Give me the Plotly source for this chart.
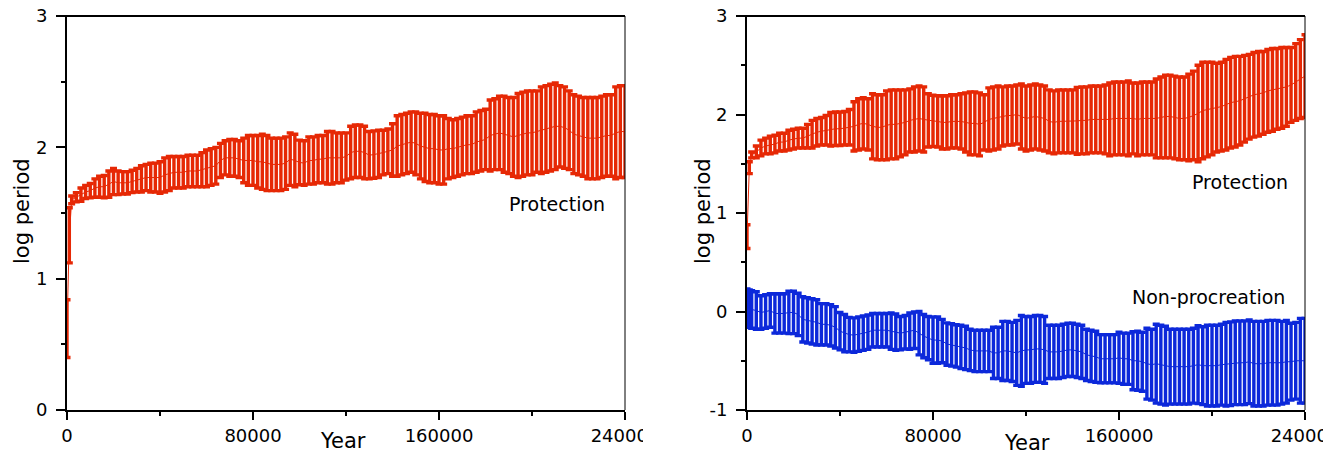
import plotly.graph_objects as go

# ---------------- data ----------------
# sample years: 0, 1000, then every 2000 years up to 240000
years = [0, 1000] + list(range(2000, 240001, 2000))

# Left panel: Protection (mean log period, half-width of error bar)
left_prot_mean = [
    0.62, 1.33,
    1.60, 1.62, 1.64, 1.66, 1.67, 1.69, 1.70, 1.70, 1.72, 1.74,   # 2k-20k
    1.73, 1.73, 1.73, 1.74, 1.75, 1.76, 1.77, 1.77, 1.77, 1.77,   # 22k-40k
    1.79, 1.80, 1.81, 1.81, 1.81, 1.82, 1.82, 1.82, 1.83, 1.84,   # 42k-60k
    1.85, 1.86, 1.90, 1.92, 1.92, 1.92, 1.91, 1.90, 1.90, 1.90,   # 62k-80k
    1.89, 1.89, 1.88, 1.87, 1.87, 1.87, 1.88, 1.91, 1.90, 1.885,  # 82k-100k
    1.88, 1.90, 1.90, 1.91, 1.91, 1.92, 1.92, 1.92, 1.92, 1.93,   # 102k-120k
    1.96, 1.97, 1.97, 1.96, 1.94, 1.945, 1.95, 1.96, 1.97, 1.98,  # 122k-140k
    2.01, 2.02, 2.03, 2.04, 2.03, 2.01, 2.00, 1.99, 1.99, 1.98,   # 142k-160k
    1.98, 1.99, 1.99, 2.00, 2.01, 2.02, 2.02, 2.04, 2.05, 2.06,   # 162k-180k
    2.09, 2.10, 2.11, 2.10, 2.09, 2.08, 2.09, 2.10, 2.11, 2.11,   # 182k-200k
    2.12, 2.13, 2.14, 2.15, 2.16, 2.16, 2.15, 2.13, 2.10, 2.09,   # 202k-220k
    2.08, 2.07, 2.07, 2.07, 2.08, 2.09, 2.09, 2.11, 2.12, 2.12,   # 222k-240k
]
left_prot_err = [
    0.22, 0.21,
    0.03, 0.035, 0.05, 0.05, 0.055, 0.07, 0.08, 0.085, 0.10, 0.10,
    0.09, 0.085, 0.085, 0.085, 0.09, 0.10, 0.10, 0.11, 0.11, 0.12,
    0.13, 0.13, 0.12, 0.12, 0.12, 0.12, 0.12, 0.12, 0.13, 0.14,
    0.14, 0.14, 0.13, 0.13, 0.14, 0.14, 0.14, 0.17, 0.19, 0.19,
    0.20, 0.21, 0.21, 0.20, 0.20, 0.20, 0.20, 0.20, 0.20, 0.17,
    0.17, 0.18, 0.18, 0.18, 0.18, 0.20, 0.20, 0.19, 0.19, 0.18,
    0.20, 0.20, 0.20, 0.20, 0.18, 0.18, 0.18, 0.17, 0.17, 0.20,
    0.23, 0.23, 0.23, 0.23, 0.24, 0.25, 0.26, 0.26, 0.26, 0.26,
    0.26, 0.23, 0.22, 0.22, 0.22, 0.22, 0.22, 0.23, 0.23, 0.23,
    0.27, 0.27, 0.28, 0.29, 0.29, 0.30, 0.32, 0.32, 0.32, 0.32,
    0.31, 0.33, 0.33, 0.33, 0.33, 0.31, 0.31, 0.30, 0.30, 0.30,
    0.30, 0.31, 0.31, 0.31, 0.31, 0.31, 0.31, 0.35, 0.35, 0.35,
]

# Right panel: Protection
right_prot_mean = [
    0.76, 1.46,
    1.59, 1.62, 1.66, 1.68, 1.69, 1.70, 1.72, 1.72, 1.74, 1.75,
    1.76, 1.76, 1.78, 1.80, 1.82, 1.83, 1.84, 1.85, 1.855, 1.855,
    1.86, 1.87, 1.88, 1.90, 1.91, 1.90, 1.88, 1.87, 1.87, 1.89,
    1.90, 1.90, 1.91, 1.92, 1.94, 1.95, 1.96, 1.95, 1.94, 1.935,
    1.93, 1.92, 1.92, 1.93, 1.93, 1.93, 1.92, 1.91, 1.91, 1.90,
    1.92, 1.95, 1.96, 1.97, 1.98, 1.99, 1.99, 2.00, 1.98, 1.96,
    1.97, 1.98, 1.97, 1.96, 1.93, 1.92, 1.93, 1.93, 1.93, 1.93,
    1.935, 1.94, 1.94, 1.95, 1.95, 1.95, 1.95, 1.95, 1.96, 1.96,
    1.96, 1.96, 1.96, 1.95, 1.96, 1.96, 1.96, 1.96, 1.97, 1.98,
    1.98, 1.97, 1.96, 1.96, 1.97, 1.99, 2.01, 2.04, 2.05, 2.06,
    2.07, 2.08, 2.10, 2.12, 2.13, 2.14, 2.16, 2.18, 2.20, 2.21,
    2.22, 2.24, 2.25, 2.26, 2.27, 2.28, 2.30, 2.33, 2.36, 2.39,
]
right_prot_err = [
    0.12, 0.06,
    0.03, 0.06, 0.08, 0.08, 0.09, 0.09, 0.09, 0.09, 0.10, 0.10,
    0.10, 0.10, 0.12, 0.14, 0.14, 0.14, 0.15, 0.17, 0.17, 0.17,
    0.17, 0.18, 0.25, 0.26, 0.26, 0.26, 0.33, 0.33, 0.33, 0.35,
    0.35, 0.35, 0.34, 0.33, 0.32, 0.33, 0.33, 0.33, 0.27, 0.26,
    0.26, 0.27, 0.27, 0.27, 0.27, 0.28, 0.30, 0.32, 0.32, 0.32,
    0.28, 0.32, 0.32, 0.32, 0.30, 0.30, 0.30, 0.30, 0.33, 0.33,
    0.33, 0.33, 0.33, 0.33, 0.32, 0.32, 0.32, 0.32, 0.32, 0.32,
    0.34, 0.34, 0.34, 0.34, 0.34, 0.34, 0.35, 0.37, 0.37, 0.37,
    0.37, 0.38, 0.36, 0.37, 0.37, 0.37, 0.37, 0.40, 0.41, 0.42,
    0.42, 0.42, 0.42, 0.42, 0.44, 0.45, 0.49, 0.49, 0.48, 0.47,
    0.45, 0.45, 0.46, 0.46, 0.46, 0.45, 0.44, 0.43, 0.43, 0.43,
    0.42, 0.42, 0.42, 0.41, 0.41, 0.40, 0.38, 0.39, 0.40, 0.42,
]

# Right panel: Non-procreation
right_nonp_mean = [
    0.045, 0.03,
    0.02, 0.01, -0.01, 0.00, 0.01, -0.02, -0.02, -0.02, -0.01, -0.01,
    -0.03, -0.08, -0.09, -0.10, -0.11, -0.13, -0.13, -0.14, -0.16, -0.20,
    -0.22, -0.235, -0.24, -0.23, -0.22, -0.21, -0.19, -0.19, -0.19, -0.19,
    -0.20, -0.21, -0.22, -0.21, -0.20, -0.19, -0.22, -0.25, -0.27, -0.29,
    -0.29, -0.30, -0.33, -0.34, -0.35, -0.36, -0.37, -0.39, -0.40, -0.40,
    -0.40, -0.40, -0.42, -0.42, -0.40, -0.40, -0.41, -0.42, -0.40, -0.39,
    -0.39, -0.38, -0.38, -0.39, -0.41, -0.41, -0.41, -0.40, -0.39, -0.39,
    -0.40, -0.41, -0.44, -0.45, -0.46, -0.48, -0.48, -0.48, -0.48, -0.47,
    -0.48, -0.48, -0.50, -0.50, -0.51, -0.53, -0.54, -0.53, -0.54, -0.55,
    -0.56, -0.56, -0.56, -0.56, -0.56, -0.55, -0.54, -0.55, -0.55, -0.55,
    -0.55, -0.54, -0.535, -0.53, -0.52, -0.52, -0.52, -0.51, -0.53, -0.53,
    -0.53, -0.52, -0.52, -0.52, -0.52, -0.51, -0.51, -0.50, -0.50, -0.50,
]
right_nonp_err = [
    0.185, 0.19,
    0.19, 0.19, 0.17, 0.17, 0.17, 0.20, 0.20, 0.20, 0.215, 0.215,
    0.215, 0.23, 0.23, 0.23, 0.23, 0.21, 0.21, 0.21, 0.21, 0.19,
    0.19, 0.175, 0.175, 0.175, 0.175, 0.175, 0.17, 0.17, 0.17, 0.17,
    0.185, 0.185, 0.17, 0.17, 0.185, 0.185, 0.22, 0.22, 0.22, 0.235,
    0.235, 0.22, 0.215, 0.215, 0.215, 0.22, 0.22, 0.21, 0.21, 0.21,
    0.21, 0.21, 0.26, 0.26, 0.30, 0.30, 0.30, 0.33, 0.36, 0.34,
    0.34, 0.34, 0.34, 0.34, 0.27, 0.27, 0.27, 0.27, 0.27, 0.27,
    0.27, 0.27, 0.26, 0.26, 0.26, 0.245, 0.245, 0.245, 0.245, 0.26,
    0.26, 0.26, 0.295, 0.30, 0.30, 0.36, 0.36, 0.40, 0.40, 0.40,
    0.38, 0.38, 0.38, 0.38, 0.38, 0.38, 0.395, 0.395, 0.41, 0.41,
    0.41, 0.41, 0.425, 0.425, 0.425, 0.425, 0.425, 0.425, 0.43, 0.43,
    0.43, 0.43, 0.43, 0.43, 0.42, 0.42, 0.39, 0.39, 0.43, 0.43,
]

x_ticks = [0, 80000, 160000, 240000]
x_tick_labels = ["0", "80000", "160000", "240000"]
y_left_ticks = [0, 1, 2, 3]
y_left_labels = ["0", "1", "2", "3"]
y_right_ticks = [-1, 0, 1, 2, 3]
y_right_labels = ["-1", "0", "1", "2", "3"]

RED = "rgb(230,40,5)"
BLUE = "rgb(12,40,218)"
FONT = "DejaVu Sans"

# ---------------- figure ----------------
fig = go.Figure()

def add_series(x, mean, err, color, xa, ya):
    fig.add_trace(go.Scatter(
        x=x, y=mean, mode="lines",
        line=dict(color=color, width=1),
        error_y=dict(type="data", array=err, symmetric=True,
                     color=color, thickness=3.4, width=3.5),
        xaxis=xa, yaxis=ya, showlegend=False, hoverinfo="skip",
    ))

add_series(years, left_prot_mean, left_prot_err, RED, "x", "y")
add_series(years, right_prot_mean, right_prot_err, RED, "x2", "y2")
add_series(years, right_nonp_mean, right_nonp_err, BLUE, "x2", "y2")

W, H = 1339, 465
def px(xp):
    return xp / W
def py(yp):
    return 1 - yp / H

ydom = [py(410), py(16)]
xdom1 = [px(67), px(625)]
xdom2 = [px(747), px(1305)]

common_x = dict(
    range=[0, 240000], tickvals=x_ticks, ticktext=x_tick_labels,
    showline=True, linecolor="black", linewidth=2,
    ticks="outside", ticklen=8, tickwidth=1.5, tickcolor="black",
    minor=dict(dtick=40000, tick0=0, ticks="outside", ticklen=4, tickwidth=1.5, tickcolor="black"),
    showgrid=False, zeroline=False, automargin=False,
    ticklabeloverflow="allow",
    tickfont=dict(family=FONT, size=18, color="black"),
    fixedrange=True,
)
common_y = dict(
    showline=True, linecolor="black", linewidth=2,
    ticks="outside", ticklen=9, tickwidth=1.5, tickcolor="black",
    minor=dict(dtick=0.5, tick0=0, ticks="outside", ticklen=4, tickwidth=1.5, tickcolor="black"),
    showgrid=False, zeroline=False, automargin=False,
    tickfont=dict(family=FONT, size=18, color="black"),
    ticklabelstandoff=5,
    fixedrange=True,
)

fig.update_layout(
    width=W, height=H,
    margin=dict(l=0, r=0, t=0, b=0, autoexpand=False),
    paper_bgcolor="white", plot_bgcolor="white",
    xaxis=dict(domain=xdom1, anchor="y", **common_x),
    yaxis=dict(domain=ydom, anchor="x", range=[0, 3], tickvals=y_left_ticks,
               ticktext=y_left_labels, **common_y),
    xaxis2=dict(domain=xdom2, anchor="y2", **common_x),
    yaxis2=dict(domain=ydom, anchor="x2", range=[-1, 3], tickvals=y_right_ticks,
                ticktext=y_right_labels, **common_y),
)

# top and right frame lines
for x0, x1 in [(xdom1[0], xdom1[1]), (xdom2[0], xdom2[1])]:
    fig.add_shape(type="line", xref="paper", yref="paper", x0=x0 - px(9), x1=x1, y0=ydom[1], y1=ydom[1],
                  line=dict(color="black", width=2), layer="above")
    fig.add_shape(type="line", xref="paper", yref="paper", x0=x1, x1=x1, y0=ydom[0], y1=ydom[1],
                  line=dict(color="black", width=1), layer="above")

# clip the last x tick label like the original panels
fig.add_shape(type="rect", xref="paper", yref="paper", x0=px(643), x1=px(680), y0=0, y1=py(420),
              fillcolor="white", line=dict(width=0), layer="above")
fig.add_shape(type="rect", xref="paper", yref="paper", x0=px(1323), x1=1, y0=0, y1=py(420),
              fillcolor="white", line=dict(width=0), layer="above")

annots = [
    dict(text="Year", x=px(343), y=py(441), size=21),
    dict(text="Year", x=px(1027), y=py(443), size=21),
    dict(text="Protection", x=px(557), y=py(204), size=19),
    dict(text="Protection", x=px(1240), y=py(182), size=19),
    dict(text="Non-procreation", x=px(1208), y=py(297), size=19),
]
for a in annots:
    fig.add_annotation(text=a["text"], x=a["x"], y=a["y"], xref="paper", yref="paper",
                       showarrow=False, xanchor="center", yanchor="middle",
                       font=dict(family=FONT, size=a["size"], color="black"))

for xc in [22, 703]:
    fig.add_annotation(text="log period", x=px(xc), y=py(211), xref="paper", yref="paper",
                       showarrow=False, textangle=-90, xanchor="center", yanchor="middle",
                       font=dict(family=FONT, size=21, color="black"))

fig.write_html("out.html")
